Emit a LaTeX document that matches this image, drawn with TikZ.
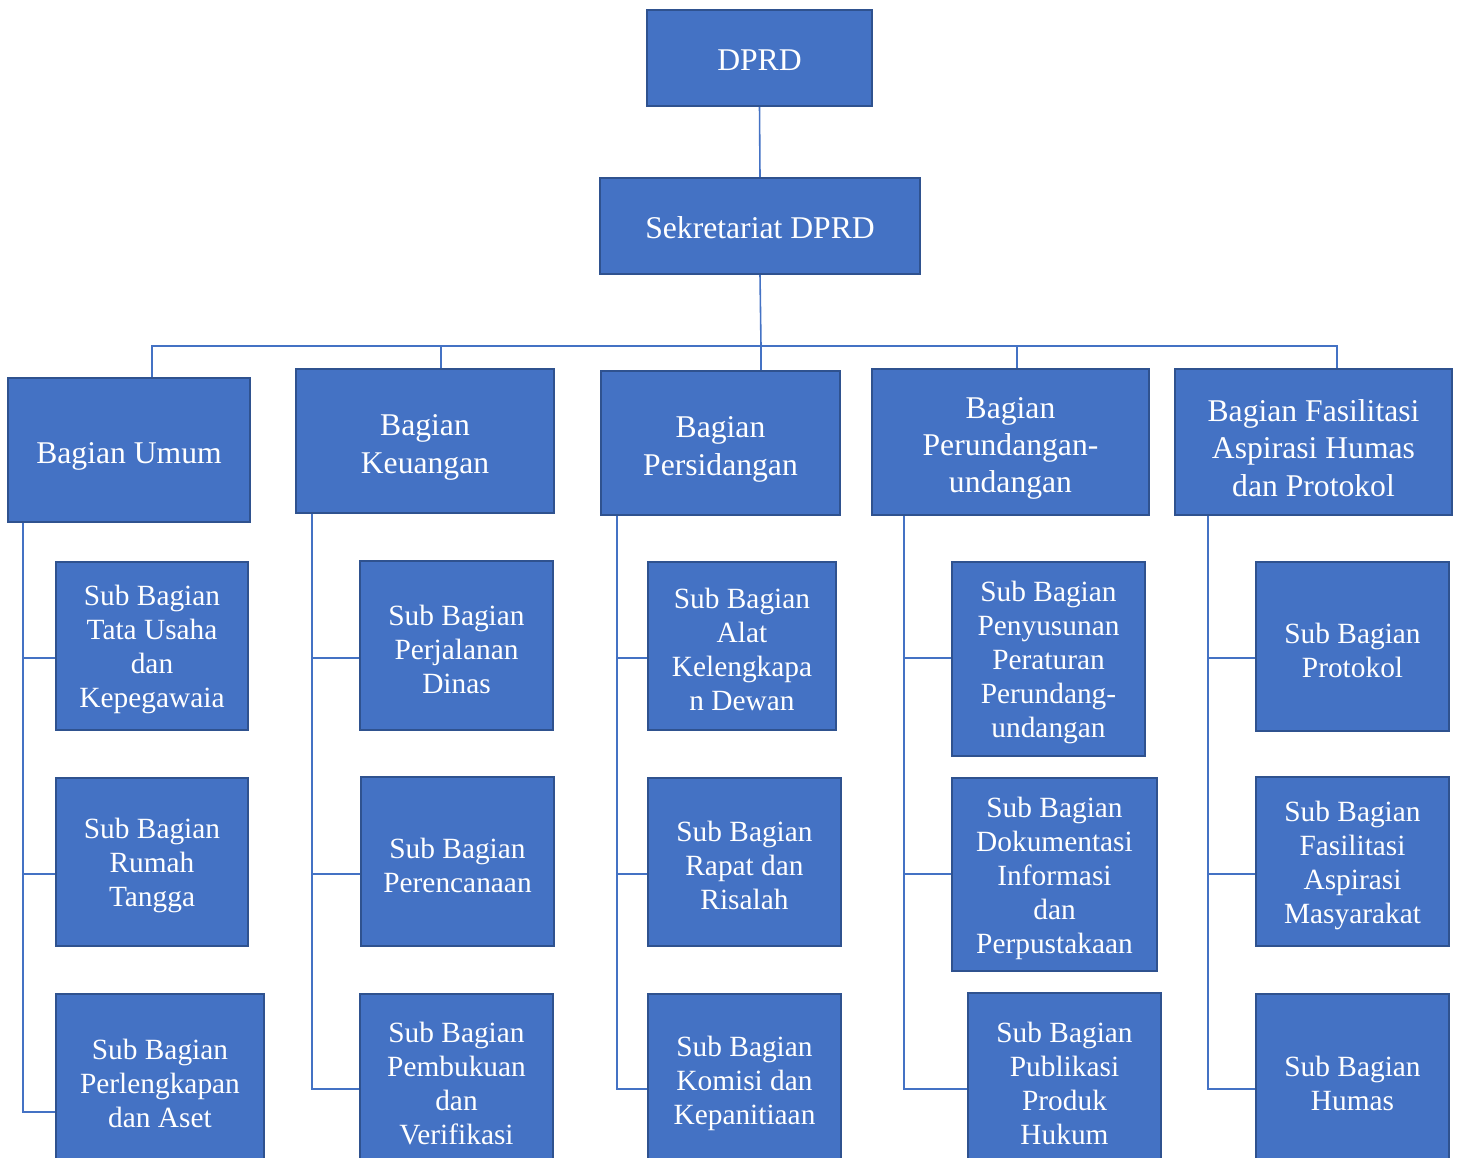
\documentclass[tikz,border=0pt]{standalone}
\usepackage{fontspec}
\setmainfont{Liberation Serif}
\usetikzlibrary{positioning}
\definecolor{boxfill}{HTML}{4472C4}
\definecolor{boxedge}{HTML}{2F528F}
\definecolor{linkblue}{HTML}{4472C4}
% struts that push the first line down a little
\newcommand{\orgtop}{\rule{0pt}{7.2pt}}
\newcommand{\orgbag}{\rule{0pt}{9.6pt}}
\newcommand{\orgsub}{\rule{0pt}{7.9pt}}
\tikzset{
 unit/.style={draw=boxedge, line width=0.6pt, fill=boxfill, text=white, align=center, inner sep=0pt, font=\fontsize{9}{10.6}\selectfont},
 subunit/.style={unit, font=\fontsize{8.35}{9.7}\selectfont},
 link/.style={draw=linkblue, line width=0.45pt}
}
\begin{document}
\begin{tikzpicture}[x=0.01cm, y=-0.01cm]
 \useasboundingbox (0,0) rectangle (1461,1158);
 \clip (0,0) rectangle (1461,1158);
 % top
 \node[unit, minimum width=2.25cm, minimum height=0.96cm] (dprd) at (759.5,58) {\orgtop DPRD};
 \node[unit, minimum width=3.2cm, minimum height=0.96cm] (sekr) at (760,226) {\orgtop Sekretariat DPRD};
 % bagian
 \node[unit, minimum width=2.42cm, minimum height=1.44cm] (umum) at (129,450) {\orgbag Bagian Umum};
 \node[unit, minimum width=2.58cm, minimum height=1.44cm] (keu) at (425,441) {\orgbag Bagian\\Keuangan};
 \node[unit, minimum width=2.39cm, minimum height=1.44cm] (sid) at (720.5,443) {\orgbag Bagian\\Persidangan};
 \node[unit, minimum width=2.77cm, minimum height=1.46cm] (pu) at (1010.5,442) {\orgbag Bagian\\Perundangan-\\undangan};
 \node[unit, minimum width=2.77cm, minimum height=1.46cm] (fas) at (1313.5,442) {\orgbag Bagian Fasilitasi\\Aspirasi Humas\\dan Protokol};
 % sub bagian umum
 \node[subunit, minimum width=1.92cm, minimum height=1.68cm] (tu) at (152,646) {\orgsub Sub Bagian\\Tata Usaha\\dan\\Kepegawaia};
 \node[subunit, minimum width=1.92cm, minimum height=1.68cm] (rt) at (152,862) {\orgsub Sub Bagian\\Rumah\\Tangga};
 \node[subunit, minimum width=2.08cm, minimum height=1.72cm] (pa) at (160,1080) {\orgsub Sub Bagian\\Perlengkapan\\dan Aset};
 % sub bagian keuangan
 \node[subunit, minimum width=1.93cm, minimum height=1.69cm] (pd) at (456.5,645.5) {\orgsub Sub Bagian\\Perjalanan\\Dinas};
 \node[subunit, minimum width=1.93cm, minimum height=1.69cm] (pr) at (457.5,861.5) {\orgsub Sub Bagian\\Perencanaan};
 \node[subunit, minimum width=1.93cm, minimum height=1.72cm] (pv) at (456.5,1080) {\orgsub Sub Bagian\\Pembukuan\\dan\\Verifikasi};
 % sub bagian persidangan
 \node[subunit, minimum width=1.88cm, minimum height=1.68cm] (ak) at (742,646) {\orgsub Sub Bagian\\Alat\\Kelengkapa\\n Dewan};
 \node[subunit, minimum width=1.93cm, minimum height=1.68cm] (rr) at (744.5,862) {\orgsub Sub Bagian\\Rapat dan\\Risalah};
 \node[subunit, minimum width=1.93cm, minimum height=1.72cm] (kk) at (744.5,1080) {\orgsub Sub Bagian\\Komisi dan\\Kepanitiaan};
 % sub bagian perundang-undangan
 \node[subunit, minimum width=1.93cm, minimum height=1.94cm] (pp) at (1048.5,659) {\orgsub Sub Bagian\\Penyusunan\\Peraturan\\Perundang-\\undangan};
 \node[subunit, minimum width=2.05cm, minimum height=1.93cm] (di) at (1054.5,874.5) {\orgsub Sub Bagian\\Dokumentasi\\Informasi\\dan\\Perpustakaan};
 \node[subunit, minimum width=1.93cm, minimum height=1.74cm] (ph) at (1064.5,1080) {\orgsub Sub Bagian\\Publikasi\\Produk\\Hukum};
 % sub bagian fasilitasi
 \node[subunit, minimum width=1.93cm, minimum height=1.69cm] (pt) at (1352.5,646.5) {\orgsub Sub Bagian\\Protokol};
 \node[subunit, minimum width=1.93cm, minimum height=1.69cm] (fm) at (1352.5,861.5) {\orgsub Sub Bagian\\Fasilitasi\\Aspirasi\\Masyarakat};
 \node[subunit, minimum width=1.93cm, minimum height=1.72cm] (hm) at (1352.5,1080) {\orgsub Sub Bagian\\Humas};
 % connectors
 \coordinate (bus) at (761,346);
 \coordinate (r1) at (0,658);
 \coordinate (r2) at (0,874);
 \coordinate (r3) at (0,1089);
 \draw[link] (dprd.south) -- (sekr.north);
 \draw[link] (sekr.south) -- (bus);
 \draw[link] ([xshift=0.23cm]umum.north) |- (bus);
 \draw[link] ([xshift=0.16cm]keu.north) |- (bus);
 \draw[link] ([xshift=0.405cm]sid.north) |- (bus);
 \draw[link] ([xshift=0.065cm]pu.north) |- (bus);
 \draw[link] ([xshift=0.235cm]fas.north) |- (bus);
 \draw[link] ([xshift=0.16cm]umum.south west) |- (r1 -| tu.west);
 \draw[link] ([xshift=0.16cm]umum.south west) |- (r2 -| rt.west);
 \draw[link] ([xshift=0.16cm]umum.south west) |- ([yshift=-0.32cm]pa.west);
 \draw[link] ([xshift=0.17cm]keu.south west) |- (r1 -| pd.west);
 \draw[link] ([xshift=0.17cm]keu.south west) |- (r2 -| pr.west);
 \draw[link] ([xshift=0.17cm]keu.south west) |- (r3 -| pv.west);
 \draw[link] ([xshift=0.17cm]sid.south west) |- (r1 -| ak.west);
 \draw[link] ([xshift=0.17cm]sid.south west) |- (r2 -| rr.west);
 \draw[link] ([xshift=0.17cm]sid.south west) |- (r3 -| kk.west);
 \draw[link] ([xshift=0.33cm]pu.south west) |- (r1 -| pp.west);
 \draw[link] ([xshift=0.33cm]pu.south west) |- (r2 -| di.west);
 \draw[link] ([xshift=0.33cm]pu.south west) |- (r3 -| ph.west);
 \draw[link] ([xshift=0.34cm]fas.south west) |- (r1 -| pt.west);
 \draw[link] ([xshift=0.34cm]fas.south west) |- (r2 -| fm.west);
 \draw[link] ([xshift=0.34cm]fas.south west) |- (r3 -| hm.west);
\end{tikzpicture}
\end{document}
